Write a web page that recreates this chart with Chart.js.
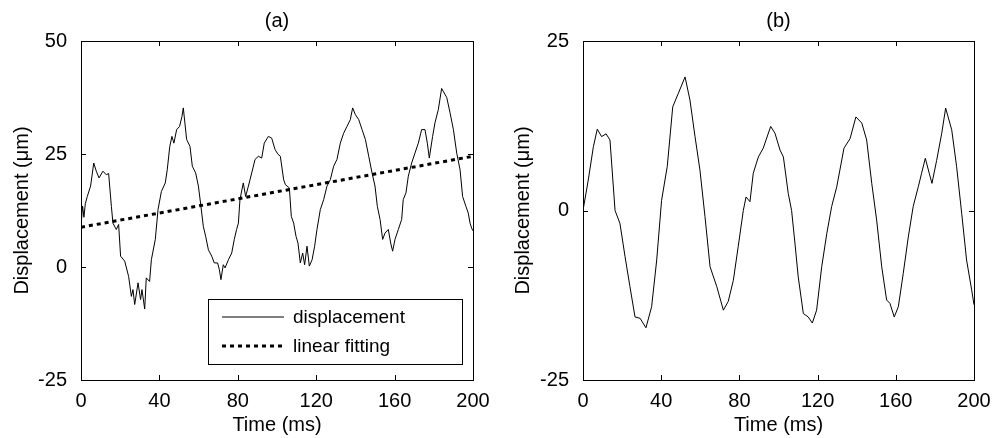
<!DOCTYPE html>
<html>
<head>
<meta charset="utf-8">
<script src="https://cdn.jsdelivr.net/npm/chart.js@4"></script>
<style>
  body { margin: 0; background: #fff; }
  #wrap { display: flex; width: 994px; height: 438px; }
  canvas { display: block; }
</style>
</head>
<body>
<div id="wrap">
  <canvas id="chart-a" width="497" height="438"></canvas>
  <canvas id="chart-b" width="497" height="438"></canvas>
</div>
<script>
// panel (a): raw displacement + linear fit
const timeA = [0, 0.8, 1.5, 2.2, 3.2, 4.9, 6.5, 7.8, 9.2, 11.2, 12.9, 14.1, 15.5, 16.3, 18, 19.2, 20.2, 22.3, 24.3, 25.7,
  26.5, 27.4, 29.1, 30.4, 31.1, 32.5, 33.3, 35, 35.9, 37.9, 39.3, 41, 43, 44, 45.3, 46.4, 47.4, 48.8, 50.3, 51.5,
  52.2, 53.9, 55.6, 56.8, 58.5, 59.9, 61.2, 62.4, 63.6, 65, 66.7, 68, 69.7, 70.6, 71.4, 72.6, 73.5, 75.2, 76.9, 78.2,
  79.4, 80.3, 81.1, 82.8, 84, 85.4, 87.1, 88.8, 90.5, 92.2, 93.5, 95.6, 97.3, 99, 100.4, 101.7, 103.4, 104.3, 106.3, 107.3,
  108.5, 109.7, 110.7, 111.9, 113.1, 114.1, 115.3, 116.5, 117.9, 119.2, 120.4, 122.1, 123.8, 125.5, 127.2, 128.9, 130.6, 132.3, 134, 135.7,
  137.4, 138.6, 140, 141.7, 143.4, 145.1, 146.8, 148.5, 150, 151.2, 152.6, 153.9, 155.1, 156.8, 158, 159, 160.2, 161.9, 163.6, 164.4,
  165.8, 167, 168.7, 170.4, 172.1, 173.8, 175.5, 176.7, 177.7, 179.4, 180.6, 182.3, 184, 186.6, 188.3, 190, 191.7, 193.4, 194.7, 196.4,
  197.6, 198.5, 199.3, 200];
const dispA = [9.0, 13.5, 11.0, 14.0, 15.6, 17.9, 23.0, 21.2, 19.7, 21.2, 20.4, 20.7, 13.4, 9.7, 8.3, 9.4, 2.4, 1.3, -2.1, -6.5,
  -5.0, -8.3, -3.5, -7.2, -5.0, -9.3, -2.4, -3.2, 1.6, 6.1, 12.7, 16.7, 18.6, 21.5, 26.7, 28.9, 27.4, 30.4, 31.1, 33.3,
  35.2, 28.2, 26.7, 22.3, 20.8, 17.9, 13.4, 9.0, 6.8, 3.8, 2.4, 0.9, 0.9, -0.6, -2.8, 0.5, -0.2, 1.6, 3.1, 6.1,
  8.3, 9.7, 14.9, 18.6, 15.6, 17.9, 20.8, 23.8, 24.5, 24.1, 27.4, 28.9, 28.5, 26.0, 25.0, 24.5, 19.3, 18.2, 17.5, 11.2,
  9.7, 6.8, 5.3, 0.9, 3.1, 0.5, 4.6, 0.2, 1.6, 4.6, 8.3, 12.7, 14.9, 17.9, 19.3, 22.3, 23.8, 27.4, 29.6, 31.1,
  32.6, 35.2, 33.7, 32.6, 30.4, 28.2, 24.5, 20.8, 17.9, 13.4, 10.5, 6.1, 7.5, 8.3, 5.3, 3.5, 6.1, 8.3, 10.5, 14.9,
  16.4, 20.1, 23.0, 25.2, 27.4, 30.4, 30.4, 27.4, 24.1, 28.9, 31.9, 34.8, 39.5, 37.5, 34.1, 30.4, 25.2, 21.5, 15.6, 13.4,
  11.9, 9.7, 8.6, 8.0];
const fitTime = [0, 200];
const fitValues = [8.8, 24.5];

// panel (b): filtered displacement
const timeB = [0, 2.7, 5.3, 7.3, 9.5, 11.8, 13.8, 16.4, 18.9, 21.5, 24, 26.6, 29.2, 32.2, 35.1, 37.7, 40.2, 43.1, 45.9, 48.8,
  52.2, 54.7, 57.3, 59.8, 62.4, 65, 68.4, 71.8, 74.3, 76.9, 79.4, 82, 83.4, 85.4, 87.1, 89.7, 92.2, 96, 98.2, 100.8,
  102.5, 105, 106.7, 108.4, 110.1, 112.7, 115.2, 117.3, 119.5, 122.1, 124.7, 127.2, 129.8, 133.5, 136.6, 139.6, 142.6, 145.1, 147.7, 150.2,
  152.8, 155.3, 157, 159.2, 161.3, 163.8, 166.4, 168.9, 171.5, 173.2, 175.1, 177.1, 178.5, 180.9, 183.5, 185.5, 188.6, 191.1, 193.7, 196.2,
  198.8, 200];
const dispB = [0, 4.5, 9.4, 12.0, 10.9, 11.3, 10.4, 0, -1.9, -6.8, -11.2, -15.7, -15.9, -17.3, -14.2, -7.3, 1.5, 6.5, 15.3, 17.3,
  19.7, 16.3, 10.9, 6.0, -0.9, -8.3, -11.2, -14.7, -13.4, -10.3, -5.3, 0, 2.0, 1.3, 5.5, 7.9, 9.2, 12.4, 11.4, 8.9,
  7.9, 2.5, 0, -4.8, -9.8, -15.2, -15.7, -16.6, -14.7, -8.3, -3.4, 0.6, 3.5, 9.2, 10.6, 13.8, 12.9, 10.4, 4.0, -1.4,
  -8.3, -13.2, -13.7, -15.7, -14.2, -9.3, -3.9, 0.6, 3.5, 5.5, 7.7, 5.5, 4.0, 7.4, 11.4, 15.1, 11.9, 6.5, -0.4, -7.3,
  -11.7, -13.9];

const xRange = [0, 200];
const yRangeA = [-25, 50];
const yRangeB = [-25, 25];

const FONT = 'Liberation Sans, Arial, Helvetica, sans-serif';

function toPoints(xs, ys) {
  return xs.map((x, i) => ({ x: x, y: ys[i] }));
}

// matlab style box with inward ticks, panel title and boxed legend
const framePlugin = {
  id: 'frame',
  afterDraw(chart, args, o) {
    const { ctx, chartArea: a, scales } = chart;
    const tl = 5;
    ctx.save();
    ctx.strokeStyle = '#000';
    ctx.lineWidth = 1;
    ctx.beginPath();
    scales.x.ticks.forEach(t => {
      const px = Math.round(scales.x.getPixelForValue(t.value)) + 0.5;
      ctx.moveTo(px, a.bottom); ctx.lineTo(px, a.bottom - tl);
      ctx.moveTo(px, a.top); ctx.lineTo(px, a.top + tl);
    });
    scales.y.ticks.forEach(t => {
      const py = Math.round(scales.y.getPixelForValue(t.value)) + 0.5;
      ctx.moveTo(a.left, py); ctx.lineTo(a.left + tl, py);
      ctx.moveTo(a.right, py); ctx.lineTo(a.right - tl, py);
    });
    ctx.stroke();
    ctx.strokeRect(Math.round(a.left) + 0.5, Math.round(a.top) + 0.5,
      Math.round(a.right - a.left), Math.round(a.bottom - a.top));

    ctx.fillStyle = '#000';
    ctx.font = '20px ' + FONT;
    ctx.textAlign = 'center';
    ctx.textBaseline = 'middle';
    ctx.fillText(o.title, (a.left + a.right) / 2, 21);

    if (o.legend) {
      const x0 = a.left + 127, x1 = a.right - 11;
      const y0 = a.bottom - 81, y1 = a.bottom - 16;
      ctx.fillStyle = '#fff';
      ctx.fillRect(x0, y0, x1 - x0, y1 - y0);
      ctx.strokeRect(Math.round(x0) + 0.5, Math.round(y0) + 0.5, Math.round(x1 - x0), Math.round(y1 - y0));
      ctx.font = '19px ' + FONT;
      ctx.textAlign = 'left';
      chart.data.datasets.forEach((ds, i) => {
        const y = y0 + 18 + i * 29;
        ctx.save();
        ctx.lineWidth = ds.borderWidth;
        ctx.strokeStyle = ds.borderColor;
        ctx.setLineDash(ds.borderDash || []);
        ctx.beginPath();
        ctx.moveTo(x0 + 14, y); ctx.lineTo(x0 + 76, y);
        ctx.stroke();
        ctx.restore();
        ctx.fillStyle = '#000';
        ctx.fillText(ds.label, x0 + 85, y + 1);
      });
    }
    ctx.restore();
  }
};

function makeChart(id, datasets, yRange, yWidth, rightPad, yTitlePad, title, legend) {
  return new Chart(document.getElementById(id), {
    type: 'line',
    data: { datasets: datasets },
    plugins: [framePlugin],
    options: {
      responsive: false,
      animation: false,
      layout: { padding: { left: 0, right: rightPad, top: 41, bottom: 0 } },
      plugins: {
        legend: { display: false },
        tooltip: { enabled: false },
        frame: { title: title, legend: legend }
      },
      elements: { point: { radius: 0 }, line: { tension: 0 } },
      scales: {
        x: {
          type: 'linear',
          min: xRange[0], max: xRange[1],
          grid: { display: false },
          border: { display: false },
          ticks: { stepSize: 40, color: '#000', padding: 1, maxRotation: 0, font: { family: FONT, size: 20 } },
          title: { display: true, text: 'Time (ms)', color: '#000', padding: { top: 0, bottom: 1 }, font: { family: FONT, size: 20 } },
          afterFit(s) { s.height = 58; }
        },
        y: {
          min: yRange[0], max: yRange[1],
          grid: { display: false },
          border: { display: false },
          ticks: { stepSize: 25, color: '#000', padding: 6, font: { family: FONT, size: 20 } },
          title: { display: true, text: 'Displacement (\u03bcm)', color: '#000', padding: { top: yTitlePad, bottom: 0 }, font: { family: FONT, size: 20 } },
          afterFit(s) { s.width = yWidth; }
        }
      }
    }
  });
}

makeChart('chart-a', [
  { label: 'displacement', data: toPoints(timeA, dispA), borderColor: '#000', borderWidth: 1, fill: false },
  { label: 'linear fitting', data: toPoints(fitTime, fitValues), borderColor: '#000', borderWidth: 3, borderDash: [4, 4], fill: false }
], yRangeA, 81, 24, 10, '(a)', true);

makeChart('chart-b', [
  { label: 'displacement', data: toPoints(timeB, dispB), borderColor: '#000', borderWidth: 1, fill: false }
], yRangeB, 86, 20, 14, '(b)', false);
</script>
</body>
</html>
